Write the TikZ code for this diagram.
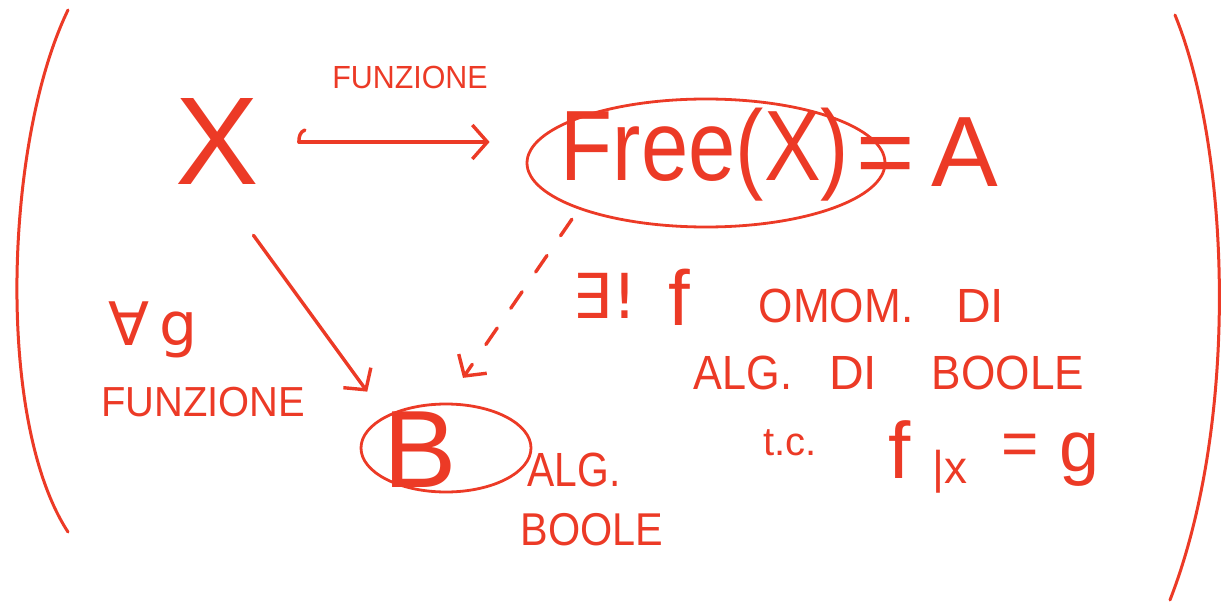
\documentclass[tikz,border=0pt]{standalone}
\usepackage{fontspec}
\setmainfont{Liberation Sans}
\newfontfamily\symfont{DejaVu Sans}
\usepackage{graphicx}
\usetikzlibrary{arrows.meta,shapes.geometric}
\definecolor{ink}{RGB}{236,58,38}

% hand-lettered text: size, horizontal squeeze, content
\newcommand{\hand}[3]{{\fontsize{#1}{#1}\selectfont\scalebox{#2}[1]{#3}}}

\begin{document}
\begin{tikzpicture}[x=1pt,y=-1pt,
  pen/.style={draw=ink,line width=3.4pt,line cap=round,line join=round},
  lbl/.style={text=ink,inner sep=0pt,anchor=center},
  ring/.style={ellipse,draw=ink,line width=2.8pt,inner sep=0pt},
  barb/.style={-{Straight Barb[length=15pt,width=34pt]}}]
\useasboundingbox (0,0) rectangle (1227,607);

% outer brackets
\draw[pen,line width=3pt] (68,10) .. controls (5,140) and (-5,420) .. (68,532);
\draw[pen,line width=3pt] (1175,15) .. controls (1230,150) and (1240,420) .. (1170,600);

% objects
\node[lbl] (x) at (217,142) {\hand{125}{1}{X}};
\node[lbl] (fun1) at (410,77) {\hand{32}{0.95}{FUNZIONE}};
\node[ring,minimum width=358pt,minimum height=128pt] (freeE) at (706,163) {};
\node[lbl] (free) at (705,155) {\hand{100}{0.85}{Free(X)}};
\node[lbl] (eqA) at (927,152) {\hand{100}{1}{=\,A}};
\node[ring,minimum width=170pt,minimum height=88pt] (bE) at (446,448) {};
\node[lbl] (b) at (420,450) {\hand{110}{1}{B}};

% left labels
\node[lbl] (forall) at (153,330) {\symfont\fontsize{60}{60}\selectfont ∀\,g};
\node[lbl] (fun2) at (203,402) {\hand{42}{0.95}{FUNZIONE}};

% labels of B
\node[lbl] (alg1) at (574,470) {\hand{48}{0.85}{ALG.}};
\node[lbl] (boole1) at (592,530) {\hand{46}{0.9}{BOOLE}};

% statement
\node[lbl] (exists) at (605,296) {\symfont\fontsize{62}{62}\selectfont ∃!};
\node[lbl] (f1) at (679,297) {\hand{78}{1}{f}};
\node[lbl] (omom) at (836,306) {\hand{48}{0.92}{OMOM.}};
\node[lbl] (di1) at (980,306) {\hand{48}{1}{DI}};
\node[lbl] (alg2) at (743,373) {\hand{48}{0.9}{ALG.}};
\node[lbl] (di2) at (853,373) {\hand{48}{1}{DI}};
\node[lbl] (boole2) at (1008,373) {\hand{48}{0.92}{BOOLE}};
\node[lbl] (tc) at (790,443) {\hand{40}{1}{t.c.}};
\node[lbl] (f2) at (900,450) {\hand{80}{1}{f}};
\node[lbl] (restr) at (950,472) {\hand{46}{1}{|x}};
\node[lbl] (eq) at (1020,450) {\hand{64}{1}{=}};
\node[lbl] (g) at (1080,460) {\hand{72}{1}{g}};

% arrows
\draw[pen,barb,shorten <=40pt,shorten >=36pt] (x.east) -- (x.east -| freeE.west);
\draw[pen] ([xshift=40pt]x.east) to[out=90,in=200] ++(6,-12);
\draw[pen,barb,shorten <=62pt,shorten >=30pt] (x.south) -- (bE.north west);
\draw[pen,barb,dash pattern=on 20pt off 24pt,shorten <=12pt,shorten >=30pt]
  (freeE.200) -- (bE.north);
\end{tikzpicture}
\end{document}
